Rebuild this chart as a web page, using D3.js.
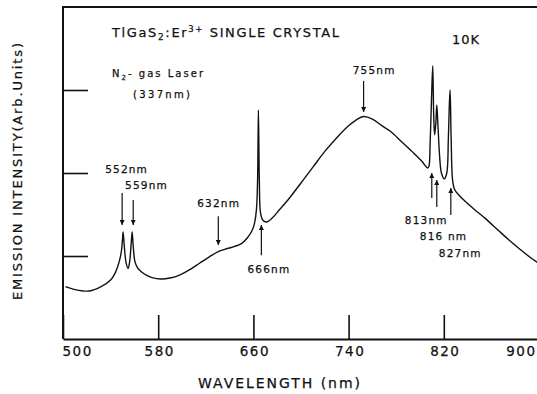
<!DOCTYPE html>
<html>
<head>
<meta charset="utf-8">
<script src="https://cdn.jsdelivr.net/npm/d3@7"></script>
<style>
  body { margin: 0; background: #fff; }
  svg { display: block; font-family: "DejaVu Sans", sans-serif; }
  svg text { stroke: #111; stroke-width: 0.25px; }
  .lbl { font-size: 10.5px; letter-spacing: 1.2px; fill: #111; }
</style>
</head>
<body>
<svg id="chart" width="537" height="394"></svg>
<script>
// spectrum (wavelength nm, intensity arb. units)
var wavelength = [502,510,522,532,540,544,547,549,550,550.5,551.5,553,554.7,556,557.3,558.1,559,560.5,563,565,570,575,582,590,598,607,615,623,630,636,643,650,655,659,661,662.5,663.5,664.2,665,666,668,671,676,682,689,700,710.5,720,731.6,740,746,752.6,760,768,775.4,785,794.7,801,806.5,807.5,808.5,809.7,810.7,811.5,812.3,813.3,814.1,815,816.5,818,820.4,822.5,823.8,824.6,825.3,826.2,827.5,829.3,833,836.8,845,855,865.5,875,885,893.3,900];
var intensity  = [0.63,0.595,0.578,0.63,0.71,0.8,0.92,1.05,1.2,1.29,1.12,0.92,0.85,0.93,1.15,1.29,1.12,0.93,0.85,0.82,0.77,0.74,0.723,0.735,0.77,0.84,0.916,0.99,1.05,1.08,1.11,1.15,1.22,1.31,1.4,1.55,1.9,2.76,1.9,1.52,1.43,1.41,1.46,1.56,1.675,1.88,2.08,2.26,2.45,2.57,2.635,2.68,2.65,2.57,2.5,2.37,2.24,2.15,2.06,2.08,2.35,2.9,3.29,2.7,2.46,2.6,2.82,2.6,2.2,2.0,1.93,2.0,2.4,2.8,3.0,2.4,1.9,1.795,1.73,1.675,1.57,1.45,1.313,1.19,1.07,0.976,0.91];

var xTicks = [500,580,660,740,820,900];
var yTicks = [1,2,3];

// peak markers: label, arrow x, arrow tail / head (intensity), label anchor
var peakNames = ["552nm","559nm","632nm","666nm","755nm","813nm","816 nm","827nm"];
var arrowAt   = [549.7,559,630.5,666.7,752.6,809.9,814.1,825.9];
var arrowFrom = [1.76,1.675,1.48,1.01,3.11,1.70,1.59,1.494];
var arrowTo   = [1.373,1.373,1.133,1.373,2.735,2.0,1.916,1.82];
var labelX    = [535.4,552.2,612.8,655,743.4,787.2,799.8,815.8];
var labelY    = [2.05,1.855,1.64,0.843,3.24,1.434,1.241,1.036];

var svg = d3.select("#chart");
var x = d3.scaleLinear().domain([500,900]).range([63,539]);
var y = d3.scaleLinear().domain([0,4]).range([339,7]);

svg.append("defs").append("marker")
	.attr("id","head")
	.attr("viewBox","0 0 10 10")
	.attr("refX",10).attr("refY",5)
	.attr("markerUnits","userSpaceOnUse")
	.attr("markerWidth",10).attr("markerHeight",5)
	.attr("orient","auto")
	.append("path").attr("d","M0,0 L10,5 L0,10 Z").attr("fill","#111");

// frame (top + left), bottom via axis
svg.append("path")
	.attr("d","M"+x(500)+","+y(0)+" V"+y(4)+" H537")
	.attr("fill","none").attr("stroke","#111").attr("stroke-width",2);

var xAxis = svg.append("g")
	.attr("transform","translate(0,"+y(0)+")")
	.call(d3.axisBottom(x).tickValues(xTicks).tickSizeInner(-24).tickSizeOuter(0).tickPadding(7));
xAxis.select(".domain").attr("stroke","#111").attr("stroke-width",2);
xAxis.selectAll(".tick line").attr("stroke","#111").attr("stroke-width",1.6);
xAxis.selectAll(".tick text")
	.attr("font-family","DejaVu Sans").attr("font-size",13.5)
	.attr("letter-spacing","1.5px").attr("fill","#111")
	.attr("text-anchor",function(d){ return d==500 ? "start" : (d==900 ? "end" : "middle"); })
	.attr("dx",function(d){ return d==500 ? -1 : (d==900 ? -3 : 1); });

var yAxis = svg.append("g")
	.attr("transform","translate("+x(500)+",0)")
	.call(d3.axisLeft(y).tickValues(yTicks).tickSizeInner(-25).tickSizeOuter(0).tickFormat(""));
yAxis.select(".domain").remove();
yAxis.selectAll(".tick line").attr("stroke","#111").attr("stroke-width",1.6);

// spectrum
var pts = wavelength.map(function(w,i){ return [w,intensity[i]]; });
svg.append("path")
	.datum(pts)
	.attr("fill","none").attr("stroke","#111").attr("stroke-width",1.4)
	.attr("d",d3.line().x(function(d){return x(d[0]);}).y(function(d){return y(d[1]);}).curve(d3.curveCatmullRom.alpha(0.5)));

// arrows + labels
svg.selectAll("line.arrow")
	.data(peakNames)
	.enter().append("line")
	.attr("class","arrow")
	.attr("x1",function(d,i){return x(arrowAt[i]);})
	.attr("x2",function(d,i){return x(arrowAt[i]);})
	.attr("y1",function(d,i){return y(arrowFrom[i]);})
	.attr("y2",function(d,i){return y(arrowTo[i]);})
	.attr("stroke","#111").attr("stroke-width",1.2)
	.attr("marker-end","url(#head)");

svg.selectAll("text.lbl")
	.data(peakNames)
	.enter().append("text")
	.attr("class","lbl")
	.attr("x",function(d,i){return x(labelX[i]);})
	.attr("y",function(d,i){return y(labelY[i]);})
	.attr("dy","0.36em")
	.text(function(d){return d;});

// title
var title = svg.append("text")
	.attr("x",112).attr("y",37)
	.attr("font-size",13).attr("fill","#111")
	.attr("textLength",227).attr("lengthAdjust","spacing");
title.append("tspan").text("TlGaS");
title.append("tspan").attr("font-size",9).attr("dy",3).text("2");
title.append("tspan").attr("dy",-3).text(":Er");
title.append("tspan").attr("font-size",8.5).attr("dy",-5).text("3+");
title.append("tspan").attr("dy",5).text(" SINGLE CRYSTAL");

svg.append("text").attr("x",452).attr("y",44)
	.attr("font-size",13).attr("fill","#111")
	.attr("textLength",27).attr("lengthAdjust","spacing").text("10K");

var laser = svg.append("text").attr("x",112).attr("y",77)
	.attr("font-size",10).attr("fill","#111")
	.attr("textLength",91).attr("lengthAdjust","spacing");
laser.append("tspan").text("N");
laser.append("tspan").attr("font-size",7).attr("dy",2.5).text("2");
laser.append("tspan").attr("dy",-2.5).text("- gas Laser");

svg.append("text").attr("x",133).attr("y",98)
	.attr("font-size",10).attr("fill","#111")
	.attr("textLength",57).attr("lengthAdjust","spacing").text("(337nm)");

// axis titles
svg.append("text").attr("x",198).attr("y",388)
	.attr("font-size",14).attr("fill","#111")
	.attr("textLength",162).attr("lengthAdjust","spacing").text("WAVELENGTH (nm)");

svg.append("text")
	.attr("transform","translate(22,300) rotate(-90)")
	.attr("font-size",13).attr("fill","#111")
	.attr("textLength",257).attr("lengthAdjust","spacing").text("EMISSION INTENSITY(Arb.Units)");
</script>
</body>
</html>
